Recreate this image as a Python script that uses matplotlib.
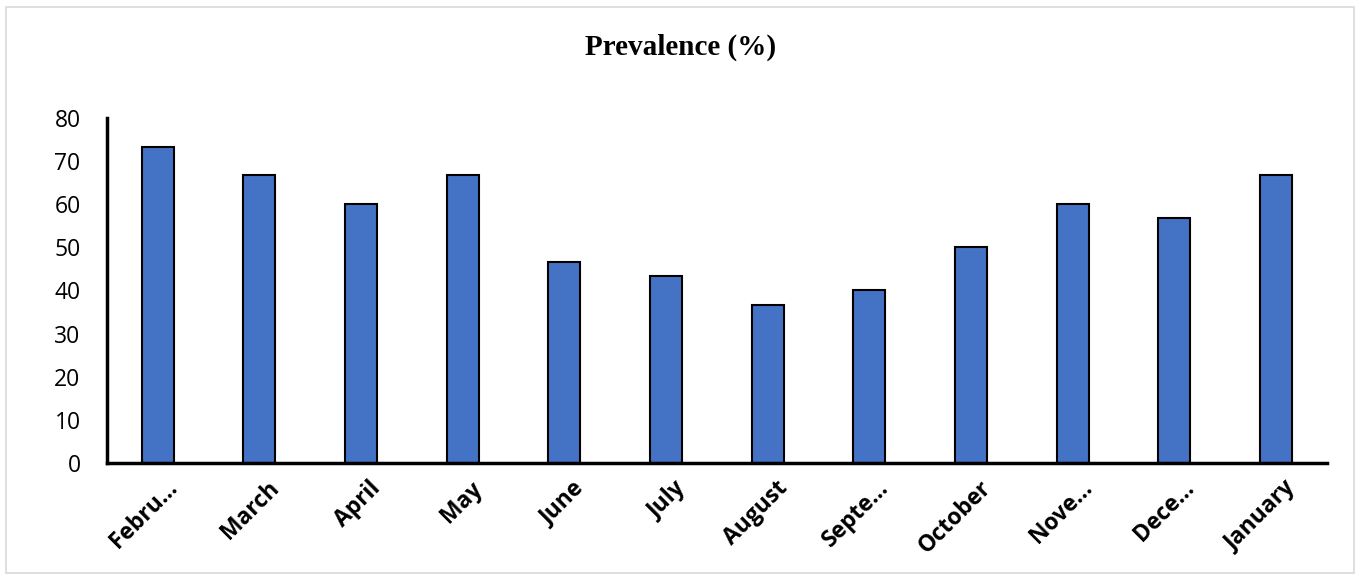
import matplotlib.pyplot as plt
import numpy as np
import matplotlib.transforms as mtransforms
from matplotlib.patches import Rectangle

# 月份标签（原图中截断的名称保留省略号）
months = ['Febru…', 'March', 'April', 'May', 'June', 'July',
          'August', 'Septe…', 'October', 'Nove…', 'Dece…', 'January']
prevalence = [73.3, 66.7, 60.0, 66.7, 46.7, 43.3,
              36.7, 40.0, 50.0, 60.0, 56.7, 66.7]
y_ticks = [0, 10, 20, 30, 40, 50, 60, 70, 80]

fig = plt.figure(figsize=(13.56, 5.75), dpi=100)
ax = fig.add_axes([0.0789, 0.1948, 0.8997, 0.6])

x = np.arange(len(months))
ax.bar(x, prevalence, width=0.315, color='#4472C4', edgecolor='black', linewidth=1.5, zorder=2)

ax.set_xlim(-0.5, len(months) - 0.5)
ax.set_ylim(0, 80)
ax.set_yticks(y_ticks)
ax.set_yticklabels([str(v) for v in y_ticks], fontsize=16.5, family='Open Sans')
ax.set_xticks(x)
ax.set_xticklabels(months, rotation=45, ha='right', va='center', rotation_mode='anchor',
                   fontsize=16.5, fontweight='bold', family='Open Sans')
ax.tick_params(axis='both', length=0)
ax.tick_params(axis='y', pad=19)
# 标签整体右移一点
offset = mtransforms.ScaledTranslation(0.16, -0.17, fig.dpi_scale_trans)
for lbl in ax.get_xticklabels():
    lbl.set_transform(lbl.get_transform() + offset)

for s in ['top', 'right']:
    ax.spines[s].set_visible(False)
ax.spines['left'].set_linewidth(2.5)
ax.spines['bottom'].set_linewidth(2.5)

# 标题
fig.text(0.502, 0.918, 'Prevalence (%)', ha='center', va='center',
         fontsize=21, fontweight='bold', family='Liberation Serif')

# 外框
fig.patches.append(Rectangle((0.0045, 0.003), 0.994, 0.985, transform=fig.transFigure,
                             fill=False, edgecolor='#d9d9d9', linewidth=1.2))

plt.savefig('out.png', dpi=100)
